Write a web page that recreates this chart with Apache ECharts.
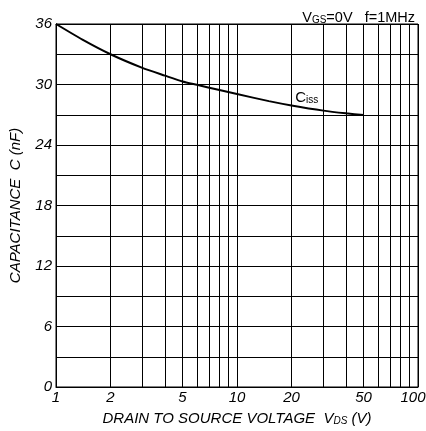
<!DOCTYPE html>
<html><head><meta charset="utf-8">
<script src="https://cdn.jsdelivr.net/npm/echarts@6/dist/echarts.min.js"></script>
<style>html,body{margin:0;padding:0;background:#fff}#c{width:426px;height:431px}</style>
</head><body><div id="c"></div>
<script>
const vds = [1, 1.4, 2, 3, 4, 5, 6, 8, 10, 15, 20, 30, 40, 50];
const ciss = [36, 34.45, 33.0, 31.65, 30.88, 30.3, 29.97, 29.45, 29.05, 28.35, 27.92, 27.41, 27.14, 26.97];
const xTicks = [1, 2, 3, 4, 5, 6, 7, 8, 9, 10, 20, 30, 40, 50, 60, 70, 80, 90, 100];
const xLabels = [1, 2, 5, 10, 20, 50, 100];

const chart = echarts.init(document.getElementById('c'));
const font = 'Liberation Sans, Arial, sans-serif';
chart.setOption({
  animation: false,
  title: {
    text: '{n|V}{s|GS}{n|=0V   f=1MHz}',
    right: 6, top: 5,
    textStyle: { rich: {
      n: { fontFamily: font, fontSize: 14.5, fontWeight: 'normal', color: '#000' },
      s: { fontFamily: font, fontSize: 10, fontWeight: 'normal', color: '#000', verticalAlign: 'bottom' }
    } }
  },
  grid: { left: 56, right: 8, top: 24, bottom: 44, outerBoundsMode: 'none', containLabel: false, show: true, borderColor: '#000', borderWidth: 1 },
  xAxis: {
    type: 'log', min: 1, max: 100, logBase: 10,
    name: '{n|DRAIN TO SOURCE VOLTAGE  V}{s|DS}{n| (V)}',
    nameLocation: 'middle', nameGap: 24,
    nameTextStyle: { rich: {
      n: { fontFamily: font, fontSize: 15, fontStyle: 'italic', color: '#000' },
      s: { fontFamily: font, fontSize: 10, fontStyle: 'italic', color: '#000', verticalAlign: 'bottom' }
    } },
    axisLine: { show: true, lineStyle: { color: '#000' } },
    axisTick: { show: false, customValues: xTicks },
    axisLabel: {
      customValues: xLabels, fontFamily: font, fontSize: 15, fontStyle: 'italic', color: '#000', margin: 3,
      formatter: v => (v === 100 ? '{e|100}' : String(v)),
      rich: { e: { fontFamily: font, fontSize: 15, fontStyle: 'italic', color: '#000', padding: [0, 10, 0, 0] } }
    },
    splitLine: { show: true, lineStyle: { color: '#000', width: 1 } }
  },
  yAxis: {
    type: 'value', min: 0, max: 36, interval: 6,
    name: 'CAPACITANCE  C (nF)', nameLocation: 'middle', nameGap: 33,
    nameTextStyle: { fontFamily: font, fontSize: 15, fontStyle: 'italic', color: '#000' },
    axisLine: { show: true, lineStyle: { color: '#000' } },
    axisTick: { show: false },
    axisLabel: { fontFamily: font, fontSize: 15, fontStyle: 'italic', color: '#000', margin: 4 },
    splitLine: { show: true, lineStyle: { color: '#000', width: 1 } },
    minorTick: { show: false, splitNumber: 2 },
    minorSplitLine: { show: true, lineStyle: { color: '#000', width: 1 } }
  },
  series: [{
    type: 'line', smooth: 0.2, symbol: 'none',
    data: vds.map((v, i) => [v, ciss[i]]),
    lineStyle: { color: '#000', width: 2 },
    markPoint: {
      symbol: 'circle', symbolSize: 0,
      data: [{ coord: [24.3, 28.65] }],
      label: { show: true, position: 'inside', formatter: '{n|C}{s|iss}', rich: {
        n: { fontFamily: font, fontSize: 15, color: '#000' },
        s: { fontFamily: font, fontSize: 10, color: '#000', verticalAlign: 'bottom' }
      } }
    }
  }]
});
</script></body></html>
